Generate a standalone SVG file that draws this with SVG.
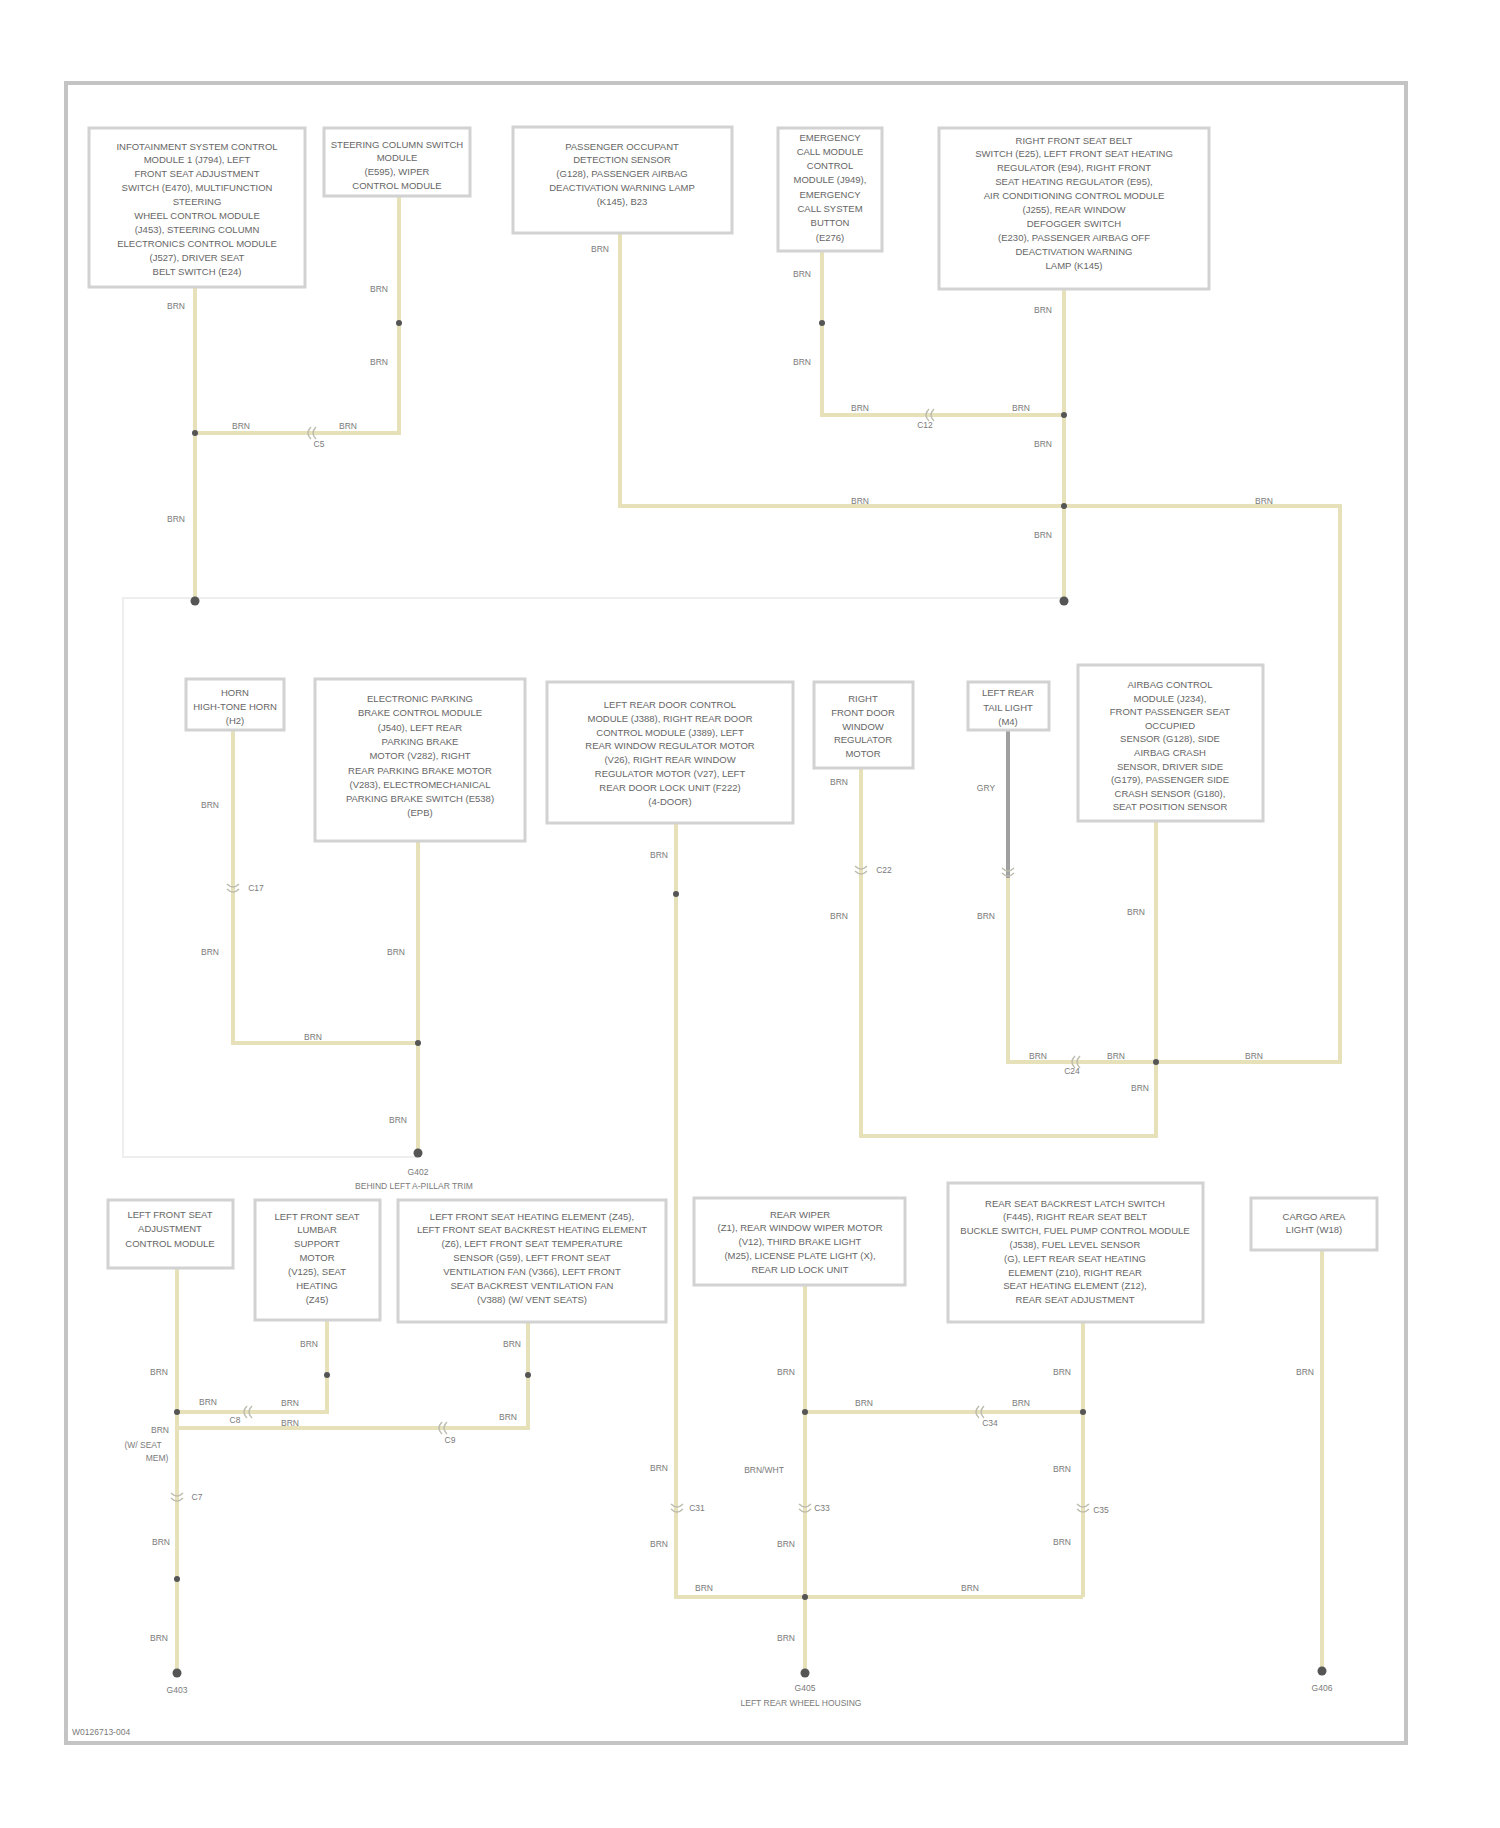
<svg xmlns="http://www.w3.org/2000/svg" width="1500" height="1828" viewBox="0 0 1500 1828">
<style>
.w{fill:none;stroke:#e6e1b9;stroke-width:4}
.wg{fill:none;stroke:#a0a0a0;stroke-width:4}
.box{fill:#fff;stroke:#d2d2d2;stroke-width:3}
.t{font-family:"Liberation Sans",Arial,sans-serif;font-size:9.5px;fill:#666;text-anchor:middle}
.lb{font-family:"Liberation Sans",Arial,sans-serif;font-size:8.5px;fill:#7a7a7a;text-anchor:middle}
.j{fill:#555}
.c{fill:none;stroke:#bdbcae;stroke-width:1.5}
</style>
<defs>
<g id="conn"><path class="c" d="M-6,-4 Q0,2 6,-4 M-6,1 Q0,7 6,1"/></g>
</defs>
<rect x="66" y="83" width="1340" height="1660" fill="#fff" stroke="#c4c4c4" stroke-width="4"/>
<path d="M1063,598 H123 V1157 H418" fill="none" stroke="#eeeeee" stroke-width="2"/>

<g id="connectors">
<path class="w" d="M195,287 V601"/>
<path class="w" d="M399,196 V433 H195"/>
<path class="w" d="M620,233 V506 H1340 V1062 H1156"/>
<path class="w" d="M822,251 V415 H1064"/>
<path class="w" d="M1064,289 V601"/>
<path class="w" d="M233,730 V1043 H418"/>
<path class="w" d="M418,841 V1153"/>
<path class="w" d="M676,823 V1597 H1083"/>
<path class="w" d="M861,768 V1136 H1156 V821"/>
<path class="wg" d="M1008,730 V878"/>
<path class="w" d="M1008,878 V1062 H1156"/>
<path class="w" d="M177,1268 V1673"/>
<path class="w" d="M327,1320 V1412 H177"/>
<path class="w" d="M528,1322 V1428 H177"/>
<path class="w" d="M805,1285 V1673"/>
<path class="w" d="M1083,1322 V1597"/>
<path class="w" d="M805,1412 H1083"/>
<path class="w" d="M1322,1250 V1671"/>

<use href="#conn" transform="translate(312,433) rotate(90)"/>
<use href="#conn" transform="translate(930,415) rotate(90)"/>
<use href="#conn" transform="translate(233,888)"/>
<use href="#conn" transform="translate(861,870)"/>
<use href="#conn" transform="translate(1008,872)"/>
<use href="#conn" transform="translate(1076,1062) rotate(90)"/>
<use href="#conn" transform="translate(177,1497)"/>
<use href="#conn" transform="translate(248,1412) rotate(90)"/>
<use href="#conn" transform="translate(443,1428) rotate(90)"/>
<use href="#conn" transform="translate(980,1412) rotate(90)"/>
<use href="#conn" transform="translate(677,1508)"/>
<use href="#conn" transform="translate(805,1508)"/>
<use href="#conn" transform="translate(1083,1508)"/>

<circle class="j" cx="195" cy="433" r="3"/>
<circle class="j" cx="399" cy="323" r="3"/>
<circle class="j" cx="822" cy="323" r="3"/>
<circle class="j" cx="1064" cy="415" r="3"/>
<circle class="j" cx="1064" cy="506" r="3"/>
<circle class="j" cx="195" cy="601" r="4.5"/>
<circle class="j" cx="1064" cy="601" r="4.5"/>
<circle class="j" cx="418" cy="1043" r="3"/>
<circle class="j" cx="418" cy="1153" r="4.5"/>
<circle class="j" cx="676" cy="894" r="3"/>
<circle class="j" cx="1156" cy="1062" r="3"/>
<circle class="j" cx="177" cy="1412" r="3"/>
<circle class="j" cx="327" cy="1375" r="3"/>
<circle class="j" cx="528" cy="1375" r="3"/>
<circle class="j" cx="177" cy="1579" r="3"/>
<circle class="j" cx="177" cy="1673" r="4.5"/>
<circle class="j" cx="805" cy="1412" r="3"/>
<circle class="j" cx="1083" cy="1412" r="3"/>
<circle class="j" cx="805" cy="1597" r="3"/>
<circle class="j" cx="805" cy="1673" r="4.5"/>
<circle class="j" cx="1322" cy="1671" r="4.5"/>

<g class="lb">
<text x="176" y="309">BRN</text>
<text x="176" y="522">BRN</text>
<text x="379" y="292">BRN</text>
<text x="379" y="365">BRN</text>
<text x="241" y="429">BRN</text>
<text x="348" y="429">BRN</text>
<text x="319" y="447">C5</text>
<text x="600" y="252">BRN</text>
<text x="802" y="277">BRN</text>
<text x="802" y="365">BRN</text>
<text x="860" y="411">BRN</text>
<text x="1021" y="411">BRN</text>
<text x="925" y="428">C12</text>
<text x="1043" y="313">BRN</text>
<text x="1043" y="447">BRN</text>
<text x="1043" y="538">BRN</text>
<text x="860" y="504">BRN</text>
<text x="1264" y="504">BRN</text>
<text x="210" y="808">BRN</text>
<text x="210" y="955">BRN</text>
<text x="256" y="891">C17</text>
<text x="313" y="1040">BRN</text>
<text x="396" y="955">BRN</text>
<text x="398" y="1123">BRN</text>
<text x="659" y="858">BRN</text>
<text x="839" y="785">BRN</text>
<text x="839" y="919">BRN</text>
<text x="884" y="873">C22</text>
<text x="986" y="791">GRY</text>
<text x="986" y="919">BRN</text>
<text x="1038" y="1059">BRN</text>
<text x="1116" y="1059">BRN</text>
<text x="1254" y="1059">BRN</text>
<text x="1072" y="1074">C24</text>
<text x="1136" y="915">BRN</text>
<text x="1140" y="1091">BRN</text>
<text x="659" y="1471">BRN</text>
<text x="659" y="1547">BRN</text>
<text x="697" y="1511">C31</text>
<text x="704" y="1591">BRN</text>
<text x="970" y="1591">BRN</text>
<text x="159" y="1375">BRN</text>
<text x="160" y="1433">BRN</text>
<text x="143" y="1448">(W/ SEAT</text>
<text x="157" y="1461">MEM)</text>
<text x="197" y="1500">C7</text>
<text x="161" y="1545">BRN</text>
<text x="159" y="1641">BRN</text>
<text x="309" y="1347">BRN</text>
<text x="208" y="1405">BRN</text>
<text x="290" y="1406">BRN</text>
<text x="235" y="1423">C8</text>
<text x="512" y="1347">BRN</text>
<text x="290" y="1426">BRN</text>
<text x="508" y="1420">BRN</text>
<text x="450" y="1443">C9</text>
<text x="786" y="1375">BRN</text>
<text x="764" y="1473">BRN/WHT</text>
<text x="822" y="1511">C33</text>
<text x="786" y="1547">BRN</text>
<text x="786" y="1641">BRN</text>
<text x="1062" y="1375">BRN</text>
<text x="1062" y="1472">BRN</text>
<text x="1101" y="1513">C35</text>
<text x="1062" y="1545">BRN</text>
<text x="864" y="1406">BRN</text>
<text x="1021" y="1406">BRN</text>
<text x="990" y="1426">C34</text>
<text x="1305" y="1375">BRN</text>
</g>
</g>

<g id="ground-g402" class="lb">
<text x="418" y="1175">G402</text>
<text x="414" y="1189">BEHIND LEFT A-PILLAR TRIM</text>
</g>
<g id="ground-g403" class="lb"><text x="177" y="1693">G403</text></g>
<g id="ground-g405" class="lb">
<text x="805" y="1691">G405</text>
<text x="801" y="1706">LEFT REAR WHEEL HOUSING</text>
</g>
<g id="ground-g406" class="lb"><text x="1322" y="1691">G406</text></g>

<g id="node-a">
<rect class="box" x="89" y="128" width="216" height="159"/>
<text class="t" y="149.5"><tspan x="197">INFOTAINMENT SYSTEM CONTROL</tspan><tspan x="197" dy="13.9">MODULE 1 (J794), LEFT</tspan><tspan x="197" dy="13.9">FRONT SEAT ADJUSTMENT</tspan><tspan x="197" dy="13.9">SWITCH (E470), MULTIFUNCTION</tspan><tspan x="197" dy="13.9">STEERING</tspan><tspan x="197" dy="13.9">WHEEL CONTROL MODULE</tspan><tspan x="197" dy="13.9">(J453), STEERING COLUMN</tspan><tspan x="197" dy="13.9">ELECTRONICS CONTROL MODULE</tspan><tspan x="197" dy="13.9">(J527), DRIVER SEAT</tspan><tspan x="197" dy="13.9">BELT SWITCH (E24)</tspan></text>
</g>
<g id="node-b">
<rect class="box" x="324" y="128" width="146" height="68"/>
<text class="t" y="147.5"><tspan x="397">STEERING COLUMN SWITCH</tspan><tspan x="397" dy="13.7">MODULE</tspan><tspan x="397" dy="13.7">(E595), WIPER</tspan><tspan x="397" dy="13.7">CONTROL MODULE</tspan></text>
</g>
<g id="node-c">
<rect class="box" x="513" y="127" width="219" height="106"/>
<text class="t" y="149.5"><tspan x="622">PASSENGER OCCUPANT</tspan><tspan x="622" dy="13.8">DETECTION SENSOR</tspan><tspan x="622" dy="13.8">(G128), PASSENGER AIRBAG</tspan><tspan x="622" dy="13.8">DEACTIVATION WARNING LAMP</tspan><tspan x="622" dy="13.8">(K145), B23</tspan></text>
</g>
<g id="node-d">
<rect class="box" x="778" y="128" width="104" height="123"/>
<text class="t" y="140.5"><tspan x="830">EMERGENCY</tspan><tspan x="830" dy="14.3">CALL MODULE</tspan><tspan x="830" dy="14.3">CONTROL</tspan><tspan x="830" dy="14.3">MODULE (J949),</tspan><tspan x="830" dy="14.3">EMERGENCY</tspan><tspan x="830" dy="14.3">CALL SYSTEM</tspan><tspan x="830" dy="14.3">BUTTON</tspan><tspan x="830" dy="14.3">(E276)</tspan></text>
</g>
<g id="node-e">
<rect class="box" x="939" y="128" width="270" height="161"/>
<text class="t" y="143.5"><tspan x="1074">RIGHT FRONT SEAT BELT</tspan><tspan x="1074" dy="13.9">SWITCH (E25), LEFT FRONT SEAT HEATING</tspan><tspan x="1074" dy="13.9">REGULATOR (E94), RIGHT FRONT</tspan><tspan x="1074" dy="13.9">SEAT HEATING REGULATOR (E95),</tspan><tspan x="1074" dy="13.9">AIR CONDITIONING CONTROL MODULE</tspan><tspan x="1074" dy="13.9">(J255), REAR WINDOW</tspan><tspan x="1074" dy="13.9">DEFOGGER SWITCH</tspan><tspan x="1074" dy="13.9">(E230), PASSENGER AIRBAG OFF</tspan><tspan x="1074" dy="13.9">DEACTIVATION WARNING</tspan><tspan x="1074" dy="13.9">LAMP (K145)</tspan></text>
</g>
<g id="node-f">
<rect class="box" x="186" y="679" width="98" height="51"/>
<text class="t" y="696"><tspan x="235">HORN</tspan><tspan x="235" dy="13.8">HIGH-TONE HORN</tspan><tspan x="235" dy="13.8">(H2)</tspan></text>
</g>
<g id="node-g">
<rect class="box" x="315" y="679" width="210" height="162"/>
<text class="t" y="702"><tspan x="420">ELECTRONIC PARKING</tspan><tspan x="420" dy="14.3">BRAKE CONTROL MODULE</tspan><tspan x="420" dy="14.3">(J540), LEFT REAR</tspan><tspan x="420" dy="14.3">PARKING BRAKE</tspan><tspan x="420" dy="14.3">MOTOR (V282), RIGHT</tspan><tspan x="420" dy="14.3">REAR PARKING BRAKE MOTOR</tspan><tspan x="420" dy="14.3">(V283), ELECTROMECHANICAL</tspan><tspan x="420" dy="14.3">PARKING BRAKE SWITCH (E538)</tspan><tspan x="420" dy="14.3">(EPB)</tspan></text>
</g>
<g id="node-h">
<rect class="box" x="547" y="682" width="246" height="141"/>
<text class="t" y="708"><tspan x="670">LEFT REAR DOOR CONTROL</tspan><tspan x="670" dy="13.8">MODULE (J388), RIGHT REAR DOOR</tspan><tspan x="670" dy="13.8">CONTROL MODULE (J389), LEFT</tspan><tspan x="670" dy="13.8">REAR WINDOW REGULATOR MOTOR</tspan><tspan x="670" dy="13.8">(V26), RIGHT REAR WINDOW</tspan><tspan x="670" dy="13.8">REGULATOR MOTOR (V27), LEFT</tspan><tspan x="670" dy="13.8">REAR DOOR LOCK UNIT (F222)</tspan><tspan x="670" dy="13.8">(4-DOOR)</tspan></text>
</g>
<g id="node-i">
<rect class="box" x="814" y="682" width="99" height="86"/>
<text class="t" y="702"><tspan x="863">RIGHT</tspan><tspan x="863" dy="13.8">FRONT DOOR</tspan><tspan x="863" dy="13.8">WINDOW</tspan><tspan x="863" dy="13.8">REGULATOR</tspan><tspan x="863" dy="13.8">MOTOR</tspan></text>
</g>
<g id="node-j">
<rect class="box" x="968" y="682" width="81" height="48"/>
<text class="t" y="696"><tspan x="1008">LEFT REAR</tspan><tspan x="1008" dy="14.5">TAIL LIGHT</tspan><tspan x="1008" dy="14.5">(M4)</tspan></text>
</g>
<g id="node-k">
<rect class="box" x="1078" y="665" width="185" height="156"/>
<text class="t" y="688"><tspan x="1170">AIRBAG CONTROL</tspan><tspan x="1170" dy="13.6">MODULE (J234),</tspan><tspan x="1170" dy="13.6">FRONT PASSENGER SEAT</tspan><tspan x="1170" dy="13.6">OCCUPIED</tspan><tspan x="1170" dy="13.6">SENSOR (G128), SIDE</tspan><tspan x="1170" dy="13.6">AIRBAG CRASH</tspan><tspan x="1170" dy="13.6">SENSOR, DRIVER SIDE</tspan><tspan x="1170" dy="13.6">(G179), PASSENGER SIDE</tspan><tspan x="1170" dy="13.6">CRASH SENSOR (G180),</tspan><tspan x="1170" dy="13.6">SEAT POSITION SENSOR</tspan></text>
</g>
<g id="node-l">
<rect class="box" x="108" y="1200" width="125" height="68"/>
<text class="t" y="1217.5"><tspan x="170">LEFT FRONT SEAT</tspan><tspan x="170" dy="14.8">ADJUSTMENT</tspan><tspan x="170" dy="14.8">CONTROL MODULE</tspan></text>
</g>
<g id="node-m">
<rect class="box" x="255" y="1200" width="125" height="120"/>
<text class="t" y="1219.5"><tspan x="317">LEFT FRONT SEAT</tspan><tspan x="317" dy="13.9">LUMBAR</tspan><tspan x="317" dy="13.9">SUPPORT</tspan><tspan x="317" dy="13.9">MOTOR</tspan><tspan x="317" dy="13.9">(V125), SEAT</tspan><tspan x="317" dy="13.9">HEATING</tspan><tspan x="317" dy="13.9">(Z45)</tspan></text>
</g>
<g id="node-n">
<rect class="box" x="398" y="1200" width="268" height="122"/>
<text class="t" y="1219.5"><tspan x="532">LEFT FRONT SEAT HEATING ELEMENT (Z45),</tspan><tspan x="532" dy="13.9">LEFT FRONT SEAT BACKREST HEATING ELEMENT</tspan><tspan x="532" dy="13.9">(Z6), LEFT FRONT SEAT TEMPERATURE</tspan><tspan x="532" dy="13.9">SENSOR (G59), LEFT FRONT SEAT</tspan><tspan x="532" dy="13.9">VENTILATION FAN (V366), LEFT FRONT</tspan><tspan x="532" dy="13.9">SEAT BACKREST VENTILATION FAN</tspan><tspan x="532" dy="13.9">(V388) (W/ VENT SEATS)</tspan></text>
</g>
<g id="node-o">
<rect class="box" x="694" y="1198" width="211" height="87"/>
<text class="t" y="1217.5"><tspan x="800">REAR WIPER</tspan><tspan x="800" dy="13.9">(Z1), REAR WINDOW WIPER MOTOR</tspan><tspan x="800" dy="13.9">(V12), THIRD BRAKE LIGHT</tspan><tspan x="800" dy="13.9">(M25), LICENSE PLATE LIGHT (X),</tspan><tspan x="800" dy="13.9">REAR LID LOCK UNIT</tspan></text>
</g>
<g id="node-p">
<rect class="box" x="948" y="1183" width="255" height="139"/>
<text class="t" y="1206.5"><tspan x="1075">REAR SEAT BACKREST LATCH SWITCH</tspan><tspan x="1075" dy="13.8">(F445), RIGHT REAR SEAT BELT</tspan><tspan x="1075" dy="13.8">BUCKLE SWITCH, FUEL PUMP CONTROL MODULE</tspan><tspan x="1075" dy="13.8">(J538), FUEL LEVEL SENSOR</tspan><tspan x="1075" dy="13.8">(G), LEFT REAR SEAT HEATING</tspan><tspan x="1075" dy="13.8">ELEMENT (Z10), RIGHT REAR</tspan><tspan x="1075" dy="13.8">SEAT HEATING ELEMENT (Z12),</tspan><tspan x="1075" dy="13.8">REAR SEAT ADJUSTMENT</tspan></text>
</g>
<g id="node-q">
<rect class="box" x="1251" y="1198" width="126" height="52"/>
<text class="t" y="1219.5"><tspan x="1314">CARGO AREA</tspan><tspan x="1314" dy="13">LIGHT (W18)</tspan></text>
</g>

<text class="lb" x="72" y="1735" style="text-anchor:start">W0126713-004</text>
</svg>
